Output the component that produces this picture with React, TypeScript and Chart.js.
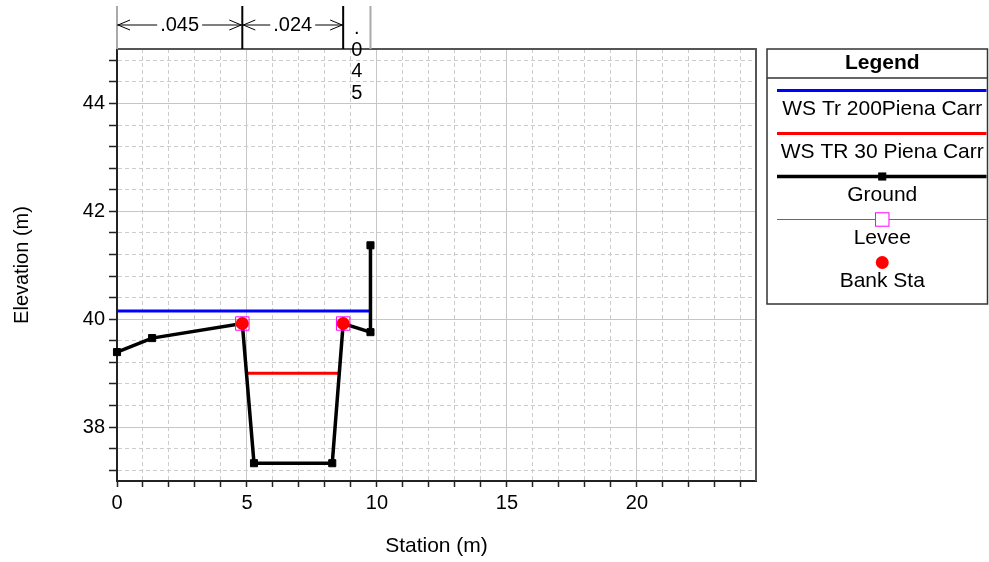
import { useEffect, useRef } from 'react';
import { Chart, registerables } from 'chart.js';

Chart.register(...registerables);

const FONT = '"Liberation Sans", Arial, Helvetica, sans-serif';

// ---- data ----
const GROUND_STATION = [0, 1.35, 4.82, 5.27, 8.28, 8.7, 9.75, 9.75];
const GROUND_ELEV = [39.39, 39.65, 39.92, 37.33, 37.33, 39.92, 39.76, 41.37];

const WS200_STATION = [0, 9.75];
const WS200_ELEV = [40.15, 40.15];

const WS30_STATION = [4.97, 8.56];
const WS30_ELEV = [39.0, 39.0];

const LEVEE_STATION = [4.82, 8.7];
const LEVEE_ELEV = [39.92, 39.92];

const BANK_STATION = [4.82, 8.7];
const BANK_ELEV = [39.92, 39.92];

// Manning's n regions
const N_BREAKS = [0, 4.82, 8.7, 9.75];
const N_VALUES = ['.045', '.024', '.045'];

// axes
const X_TICK_LABELS = [0, 5, 10, 15, 20];
const Y_TICK_LABELS = [38, 40, 42, 44];
const X_RANGE = [0, 24.58];
const Y_RANGE = [37.0, 45.01];
const X_MINOR_STEP = 1;
const Y_MINOR_STEP = 0.4;

const SERIES_LABELS = ['WS Tr 200Piena Carr', 'WS TR 30 Piena Carr', 'Ground', 'Levee', 'Bank Sta'];

const pts = (xs: number[], ys: number[]) => xs.map((x, i) => ({ x, y: ys[i] }));
const near = (a: number, b: number) => Math.abs(a - b) < 1e-6;
const isLabelled = (v: number, labels: number[]) => labels.some((l) => near(l, v));

function minorTicks(range: number[], step: number) {
  const out: { value: number }[] = [];
  const start = Math.ceil(range[0] / step - 1e-9);
  const end = Math.floor(range[1] / step + 1e-9);
  for (let i = start; i <= end; i++) out.push({ value: Math.round(i * step * 1000) / 1000 });
  return out;
}

const framePlugin = {
  id: 'frame',
  beforeDatasetsDraw(chart: any) {
    const { ctx, chartArea } = chart;
    ctx.save();
    ctx.strokeStyle = '#555';
    ctx.lineWidth = 2;
    ctx.beginPath();
    ctx.moveTo(chartArea.left, chartArea.top);
    ctx.lineTo(chartArea.right, chartArea.top);
    ctx.lineTo(chartArea.right, chartArea.bottom);
    ctx.stroke();
    ctx.restore();
  },
};

const manningPlugin = {
  id: 'manning',
  afterDraw(chart: any) {
    const { ctx, chartArea } = chart;
    const xs = chart.scales.x;
    const px = N_BREAKS.map((v) => xs.getPixelForValue(v));
    const topY = 6;
    const arrowY = 25;
    ctx.save();
    ctx.lineWidth = 2;
    px.forEach((p, i) => {
      ctx.strokeStyle = i === 0 || i === px.length - 1 ? '#aaa' : '#000';
      ctx.beginPath();
      ctx.moveTo(p, topY);
      ctx.lineTo(p, chartArea.top);
      ctx.stroke();
    });
    ctx.font = `20px ${FONT}`;
    ctx.fillStyle = '#000';
    ctx.textAlign = 'center';
    ctx.textBaseline = 'middle';
    ctx.strokeStyle = '#000';
    ctx.lineWidth = 1;
    for (let i = 0; i < N_VALUES.length; i++) {
      const x0 = px[i];
      const x1 = px[i + 1];
      const txt = N_VALUES[i];
      const tw = ctx.measureText(txt).width;
      const cx = (x0 + x1) / 2;
      if (x1 - x0 > tw + 30) {
        ctx.fillText(txt, cx, arrowY);
        ctx.beginPath();
        ctx.moveTo(x0, arrowY);
        ctx.lineTo(cx - tw / 2 - 3, arrowY);
        ctx.moveTo(cx + tw / 2 + 3, arrowY);
        ctx.lineTo(x1, arrowY);
        // arrowheads
        ctx.moveTo(x0 + 13, arrowY - 5);
        ctx.lineTo(x0 + 1, arrowY);
        ctx.lineTo(x0 + 13, arrowY + 5);
        ctx.moveTo(x1 - 13, arrowY - 5);
        ctx.lineTo(x1 - 1, arrowY);
        ctx.lineTo(x1 - 13, arrowY + 5);
        ctx.stroke();
      } else {
        const chars = txt.split('');
        chars.forEach((c, k) => ctx.fillText(c, cx, 28.5 + k * 21.5));
      }
    }
    ctx.restore();
  },
};

const legendPlugin = {
  id: 'customLegend',
  afterDraw(chart: any) {
    const { ctx, chartArea } = chart;
    const left = chartArea.right + 11;
    const right = chart.width - 1.5;
    const top = chartArea.top;
    const bottom = 304;
    ctx.save();
    ctx.fillStyle = '#fff';
    ctx.fillRect(left, top, right - left, bottom - top);
    ctx.strokeStyle = '#333';
    ctx.lineWidth = 1.5;
    ctx.strokeRect(left, top, right - left, bottom - top);
    ctx.beginPath();
    ctx.moveTo(left, 78);
    ctx.lineTo(right, 78);
    ctx.stroke();

    const cx = (left + 10 + right) / 2;
    ctx.fillStyle = '#000';
    ctx.textAlign = 'center';
    ctx.textBaseline = 'middle';
    ctx.font = `bold 21px ${FONT}`;
    ctx.fillText('Legend', cx, 63);

    ctx.font = `21px ${FONT}`;
    const ds = chart.data.datasets;
    ds.forEach((d: any, i: number) => {
      const sy = 90.5 + i * 43;
      const ty = 109.5 + i * 43;
      const lx0 = left + 10;
      const lx1 = right - 1;
      if (d.showLine) {
        ctx.strokeStyle = d.borderColor;
        ctx.lineWidth = d.borderWidth;
        ctx.beginPath();
        ctx.moveTo(lx0, sy);
        ctx.lineTo(lx1, sy);
        ctx.stroke();
      } else if (d.pointStyle === 'rect') {
        ctx.strokeStyle = d.pointBorderColor;
        ctx.lineWidth = 1;
        ctx.beginPath();
        ctx.moveTo(lx0, sy);
        ctx.lineTo(lx1, sy);
        ctx.stroke();
      }
      if (d.pointRadius > 0) {
        if (d.pointStyle === 'rect') {
          const s = d.pointRadius * Math.SQRT1_2;
          if (d.pointBackgroundColor && d.pointBackgroundColor !== 'rgba(0,0,0,0)') {
            ctx.fillStyle = d.pointBackgroundColor;
            ctx.fillRect(cx - s, sy - s, 2 * s, 2 * s);
          } else {
            ctx.fillStyle = '#fff';
            ctx.fillRect(cx - s, sy - s, 2 * s, 2 * s);
          }
          ctx.strokeStyle = d.pointBorderColor;
          ctx.lineWidth = d.pointBorderWidth || 1;
          ctx.strokeRect(cx - s, sy - s, 2 * s, 2 * s);
        } else {
          ctx.fillStyle = d.pointBackgroundColor;
          ctx.beginPath();
          ctx.arc(cx, sy, d.pointRadius, 0, Math.PI * 2);
          ctx.fill();
        }
      }
      ctx.fillStyle = '#000';
      ctx.fillText(d.label, cx, ty);
    });
    ctx.restore();
  },
};

export default function App() {
  const canvasRef = useRef<HTMLCanvasElement | null>(null);

  useEffect(() => {
    if (!canvasRef.current) return;
    const gridColor = (ctx: any, labels: number[]) =>
      ctx.tick && isLabelled(ctx.tick.value, labels) ? '#c6c6c6' : '#cccccc';
    const gridDash = (ctx: any, labels: number[]) =>
      ctx.tick && !isLabelled(ctx.tick.value, labels) ? [4, 3] : [];

    const chart = new Chart(canvasRef.current, {
      type: 'scatter',
      data: {
        datasets: [
          {
            label: SERIES_LABELS[0],
            data: pts(WS200_STATION, WS200_ELEV),
            showLine: true,
            borderColor: '#0000ff',
            borderWidth: 3,
            pointRadius: 0,
            clip: false,
            order: 3,
          },
          {
            label: SERIES_LABELS[1],
            data: pts(WS30_STATION, WS30_ELEV),
            showLine: true,
            borderColor: '#ff0000',
            borderWidth: 3,
            pointRadius: 0,
            clip: false,
            order: 3,
          },
          {
            label: SERIES_LABELS[2],
            data: pts(GROUND_STATION, GROUND_ELEV),
            showLine: true,
            borderColor: '#000000',
            borderWidth: 3.5,
            pointStyle: 'rect',
            pointRadius: 5,
            pointBackgroundColor: '#000000',
            pointBorderColor: '#000000',
            pointBorderWidth: 1,
            clip: false,
            order: 2,
          },
          {
            label: SERIES_LABELS[3],
            data: pts(LEVEE_STATION, LEVEE_ELEV),
            showLine: false,
            pointStyle: 'rect',
            pointRadius: 9.5,
            pointBackgroundColor: 'rgba(0,0,0,0)',
            pointBorderColor: '#ff00ff',
            pointBorderWidth: 1,
            clip: false,
            order: 1,
          },
          {
            label: SERIES_LABELS[4],
            data: pts(BANK_STATION, BANK_ELEV),
            showLine: false,
            pointStyle: 'circle',
            pointRadius: 6.5,
            pointBackgroundColor: '#ff0000',
            pointBorderColor: '#ff0000',
            pointBorderWidth: 0,
            clip: false,
            order: 0,
          },
        ] as any,
      },
      options: {
        animation: false,
        responsive: false,
        devicePixelRatio: 1,
        events: [],
        layout: { padding: { left: 0, top: 49, right: 233, bottom: 0 } },
        plugins: {
          legend: { display: false },
          tooltip: { enabled: false },
        },
        scales: {
          x: {
            type: 'linear',
            position: 'bottom',
            min: X_RANGE[0],
            max: X_RANGE[1],
            afterBuildTicks: (scale: any) => {
              scale.ticks = minorTicks(X_RANGE, X_MINOR_STEP);
            },
            afterFit: (scale: any) => {
              scale.height = 81;
            },
            ticks: {
              autoSkip: false,
              maxRotation: 0,
              padding: 4,
              color: '#000',
              font: { family: FONT, size: 20 },
              callback: (v: any) => (isLabelled(Number(v), X_TICK_LABELS) ? String(Math.round(Number(v))) : ''),
            },
            grid: {
              color: (ctx: any) => gridColor(ctx, X_TICK_LABELS),
              lineWidth: 1,
              tickLength: 6,
              tickColor: '#222',
              tickWidth: 1.5,
            },
            border: {
              display: true,
              color: '#222',
              width: 2,
              dash: (ctx: any) => gridDash(ctx, X_TICK_LABELS),
            },
            title: {
              display: true,
              text: 'Station (m)',
              color: '#000',
              font: { family: FONT, size: 21 },
              padding: { top: 0, bottom: 3 },
            },
          },
          y: {
            type: 'linear',
            position: 'left',
            min: Y_RANGE[0],
            max: Y_RANGE[1],
            afterBuildTicks: (scale: any) => {
              scale.ticks = minorTicks(Y_RANGE, Y_MINOR_STEP);
            },
            afterFit: (scale: any) => {
              scale.width = 117;
            },
            ticks: {
              autoSkip: false,
              padding: 4,
              color: '#000',
              font: { family: FONT, size: 20 },
              callback: (v: any) => (isLabelled(Number(v), Y_TICK_LABELS) ? String(Math.round(Number(v))) : ''),
            },
            grid: {
              color: (ctx: any) => gridColor(ctx, Y_TICK_LABELS),
              lineWidth: 1,
              tickLength: 8,
              tickColor: '#222',
              tickWidth: 1.5,
            },
            border: {
              display: true,
              color: '#222',
              width: 2,
              dash: (ctx: any) => gridDash(ctx, Y_TICK_LABELS),
            },
            title: {
              display: true,
              text: 'Elevation (m)',
              color: '#000',
              font: { family: FONT, size: 20 },
              padding: { top: 10, bottom: 0 },
            },
          },
        },
      } as any,
      plugins: [framePlugin, manningPlugin, legendPlugin],
    });
    return () => chart.destroy();
  }, []);

  return (
    <div style={{ position: 'fixed', left: 0, top: 0, width: 989, height: 562, background: '#fff' }}>
      <canvas ref={canvasRef} width={989} height={562} style={{ display: 'block' }} />
    </div>
  );
}
